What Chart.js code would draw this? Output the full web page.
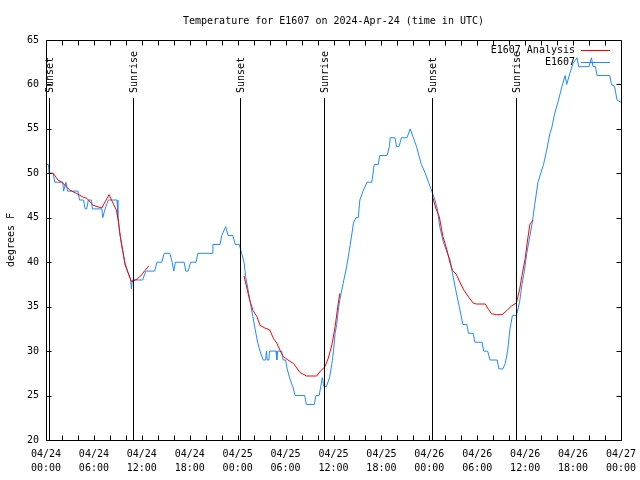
<!DOCTYPE html>
<html>
<head>
<meta charset="utf-8">
<script src="https://cdn.jsdelivr.net/npm/chart.js@4/dist/chart.umd.min.js"></script>
<style>
  html, body { margin: 0; padding: 0; background: #fff; }
</style>
</head>
<body>
<canvas id="myChart" width="640" height="480"></canvas>
<script>
// hours since 04/24 00:00 UTC, temperature in F
var obsHours = [0.0, 0.3, 0.4, 0.9, 1.1, 2.1, 2.2, 2.5, 2.7, 4.0, 4.2, 4.7, 4.9, 5.1, 5.3, 5.7, 5.8, 7.0, 7.1, 7.4, 7.8, 8.9,
  9.0, 9.2, 9.5, 9.9, 10.3, 10.6, 10.7, 10.8, 12.1, 12.5, 13.6, 13.9, 14.5, 14.8, 15.5, 15.8, 16.0, 16.2, 17.3, 17.5, 17.8,
  18.1, 18.8, 19.0, 20.8, 20.9, 21.8, 22.0, 22.5, 22.8, 23.4, 23.7, 24.2, 24.5, 24.8, 25.0, 25.3, 25.6, 25.9, 26.2, 26.5,
  26.8, 27.2, 27.5, 27.6, 27.7, 27.9, 28.0, 28.8, 28.9, 29.0, 29.5, 29.7, 30.0, 30.2, 30.5, 30.9, 31.2, 32.4, 32.6, 33.6,
  33.8, 34.2, 34.4, 34.6, 34.8, 35.1, 35.5, 35.8, 36.0, 36.2, 36.4, 36.6, 36.8, 37.2, 37.65, 38.1, 38.5, 38.8, 39.1, 39.3,
  39.7, 40.2, 40.8, 41.1, 41.6, 41.8, 42.7, 43.0, 43.1, 43.7, 43.9, 44.2, 44.5, 45.2, 45.6, 46.0, 46.4, 47.0, 47.5, 47.9,
  48.3, 48.7, 49.0, 49.3, 49.75, 50.25, 50.6, 50.9, 51.3, 51.75, 52.2, 52.7, 52.9, 53.5, 53.7, 54.6, 54.8, 55.3, 55.6,
  56.5, 56.7, 57.2, 57.5, 57.8, 58.1, 58.4, 58.9, 59.3, 59.6, 59.9, 60.2, 60.5, 60.9, 61.2, 61.6, 62.3, 62.7, 63.1, 63.3,
  63.7, 64.1, 64.6, 65.0, 65.2, 65.6, 66.0, 66.5, 66.7, 68.0, 68.3, 68.5, 68.8, 69.0, 70.6, 70.8, 71.2, 71.5, 72.0];
var obsTemps = [51, 51, 50, 50, 49, 49, 48, 49, 48, 48, 47, 47, 46, 46, 47, 47, 46, 46, 45, 46, 47, 47,
  45, 43.5, 41.7, 39.9, 38.8, 38, 37, 38, 38, 39, 39, 40, 40, 41, 41, 40, 39, 40, 40, 39, 39,
  40, 40, 41, 41, 42, 42, 43, 44, 43, 43, 42, 42, 41, 40, 38.4, 36.9, 35.4, 33.9, 32.4, 31,
  30, 29, 29, 30, 29, 29, 30, 30, 29, 30, 30, 29, 29, 28, 27, 26, 25, 25, 24, 24,
  25, 25, 26, 27, 26, 26, 27, 28.6, 30, 32, 33, 34.6, 35.8, 37.6, 39.5, 42, 44.4, 45, 45, 47,
  48, 49, 49, 51, 51, 52, 52, 53, 54, 54, 53, 53, 54, 54, 55, 54, 53, 51, 50, 49,
  48, 47, 46, 44, 42.3, 41, 40.25, 38.75, 36.9, 35, 33, 33, 32, 32, 31, 31, 30, 30, 29,
  29, 28, 28, 28.6, 30, 32.5, 34, 34, 35.5, 37.5, 39, 41, 42.5, 44.5, 46.5, 49, 51, 52.6, 54.5, 55,
  56.75, 58, 59.75, 61, 60, 61.25, 62.4, 63, 62, 62, 63, 62, 62, 61, 61, 60, 59.75, 58.25, 58];

var anaHours = [0.0, 0.9, 1.5, 2.0, 3.0, 3.8, 4.7, 5.1, 5.9, 7.0, 7.4, 7.9, 8.2, 8.8, 9.05, 9.3, 9.6, 9.9, 10.3, 10.7,
  11.4, 12.0, 12.4, 12.9, 13.0,
  24.8, 25.2, 25.5, 25.9, 26.4, 26.8, 27.4, 28.0, 28.5, 28.9, 29.3, 29.7, 30.3, 31.0, 31.8, 32.6, 33.9, 34.4, 34.9,
  35.35, 35.8, 36.2, 36.6, 36.8, 37.0,
  48.4, 48.8, 49.25, 49.7, 50.2, 50.6, 50.9, 51.4, 51.8, 52.3, 52.9, 53.5, 53.9, 55.0, 55.4, 55.8, 56.4, 57.1, 57.7,
  58.3, 58.9, 59.3, 59.6, 60.0, 60.3, 60.6, 61.0];
var anaTemps = [50, 50, 49.25, 49, 48.1, 47.75, 47.3, 47.2, 46.4, 46.1, 46.8, 47.6, 47, 45.9, 44.75, 42.9, 41.4, 39.7, 38.75, 37.8,
  38.1, 38.6, 39.1, 39.6, null,
  38.45, 36.9, 35.75, 34.6, 33.9, 32.9, 32.6, 32.4, 31.4, 30.9, 30.1, 29.4, 29, 28.6, 27.6, 27.2, 27.2, 27.8, 28.2,
  29.2, 30.7, 32.75, 35.4, 36.5, null,
  47.4, 46.1, 45.1, 42.9, 41.4, 39.9, 39.1, 38.6, 37.8, 36.9, 36.1, 35.4, 35.3, 35.3, 34.7, 34.2, 34.1, 34.1, 34.55,
  35.1, 35.4, 36.9, 38.5, 40.4, 42.5, 44.3, 44.75];

var sunHours = [0.37, 10.9, 24.35, 34.85, 48.33, 58.85];
var sunLabels = ["Sunset", "Sunrise", "Sunset", "Sunrise", "Sunset", "Sunrise"];

var dayLabels = ["04/24", "04/24", "04/24", "04/24", "04/25", "04/25", "04/25", "04/25", "04/26", "04/26", "04/26", "04/26", "04/27"];
var timeLabels = ["00:00", "06:00", "12:00", "18:00", "00:00", "06:00", "12:00", "18:00", "00:00", "06:00", "12:00", "18:00", "00:00"];

var titleText = "Temperature for E1607 on 2024-Apr-24 (time in UTC)";
var yTitle = "degrees F";
var monoFont = "'DejaVu Sans Mono', monospace";

function toPoints(xs, ys) {
  return xs.map(function (x, i) { return { x: x, y: ys[i] }; });
}

var gnuplotFrame = {
  id: "gnuplotFrame",
  beforeDraw: function (chart) {
    var ctx = chart.ctx;
    ctx.save();
    ctx.fillStyle = "#fff";
    ctx.fillRect(0, 0, chart.width, chart.height);
    ctx.restore();
  },
  afterDatasetsDraw: function (chart) {
    var ctx = chart.ctx;
    var a = chart.chartArea;
    var xs = chart.scales.x, ys = chart.scales.y;
    var L = Math.round(a.left) + 0.5, R = Math.round(a.right) + 0.5;
    var T = Math.round(a.top) + 0.5, B = Math.round(a.bottom) + 0.5;
    ctx.save();
    ctx.strokeStyle = "#000";
    ctx.lineWidth = 1;

    // sunrise / sunset markers
    ctx.font = "10px " + monoFont;
    ctx.fillStyle = "#000";
    sunHours.forEach(function (h, i) {
      var px = Math.round(xs.getPixelForValue(h)) + 0.5;
      ctx.beginPath();
      ctx.moveTo(px, B);
      ctx.lineTo(px, 98);
      ctx.stroke();
      ctx.save();
      ctx.translate(px + 1, 93);
      ctx.rotate(-Math.PI / 2);
      ctx.textAlign = "left";
      ctx.textBaseline = "middle";
      ctx.fillText(sunLabels[i], 0, 0);
      ctx.restore();
    });

    // border
    ctx.beginPath();
    ctx.rect(L, T, R - L, B - T);
    ctx.stroke();

    // inward ticks
    ctx.beginPath();
    xs.ticks.forEach(function (t) {
      var px = Math.round(xs.getPixelForValue(t.value)) + 0.5;
      ctx.moveTo(px, B); ctx.lineTo(px, B - 5);
      ctx.moveTo(px, T); ctx.lineTo(px, T + 5);
    });
    ys.ticks.forEach(function (t) {
      var py = Math.round(ys.getPixelForValue(t.value)) + 0.5;
      ctx.moveTo(L, py); ctx.lineTo(L + 5, py);
      ctx.moveTo(R, py); ctx.lineTo(R - 5, py);
    });
    ctx.stroke();

    // title
    ctx.textAlign = "center";
    ctx.textBaseline = "middle";
    ctx.fillText(titleText, (a.left + a.right) / 2, 21);

    // y axis title
    ctx.save();
    ctx.translate(11, (a.top + a.bottom) / 2);
    ctx.rotate(-Math.PI / 2);
    ctx.fillText(yTitle, 0, 0);
    ctx.restore();

    // key
    chart.data.datasets.forEach(function (ds, i) {
      var y = 50 + i * 12;
      ctx.textAlign = "right";
      ctx.fillStyle = "#000";
      ctx.fillText(ds.label, 575, y);
      ctx.strokeStyle = ds.borderColor;
      ctx.beginPath();
      ctx.moveTo(581, y + 0.5);
      ctx.lineTo(610, y + 0.5);
      ctx.stroke();
    });
    ctx.restore();
  }
};

new Chart("myChart", {
  type: "line",
  data: {
    datasets: [{
      label: "E1607 Analysis",
      data: toPoints(anaHours, anaTemps),
      borderColor: "#ff0000",
      borderWidth: 1,
      pointRadius: 0,
      tension: 0,
      spanGaps: false
    }, {
      label: "E1607",
      data: toPoints(obsHours, obsTemps),
      borderColor: "#1e8cff",
      borderWidth: 1,
      pointRadius: 0,
      tension: 0
    }]
  },
  options: {
    responsive: false,
    animation: false,
    layout: { padding: { left: 0, top: 40, right: 19, bottom: 0 } },
    plugins: {
      legend: { display: false },
      tooltip: { enabled: false }
    },
    scales: {
      x: {
        type: "linear",
        min: 0,
        max: 72,
        afterFit: function (s) {
          s.height = 40;
          s.paddingLeft = 0;
          s.paddingRight = 0;
        },
        border: { display: false },
        grid: { display: false, drawTicks: false },
        ticks: {
          stepSize: 2,
          autoSkip: false,
          maxRotation: 0,
          padding: 7,
          color: "#000",
          font: { family: monoFont, size: 10, lineHeight: 1.4 },
          callback: function (v) {
            if (v % 6 !== 0) return "";
            return [dayLabels[v / 6], timeLabels[v / 6]];
          }
        }
      },
      y: {
        min: 20,
        max: 65,
        afterFit: function (s) {
          s.width = 46;
          s.paddingTop = 0;
          s.paddingBottom = 0;
        },
        border: { display: false },
        grid: { display: false, drawTicks: false },
        ticks: {
          stepSize: 5,
          padding: 7,
          color: "#000",
          font: { family: monoFont, size: 10 }
        }
      }
    }
  },
  plugins: [gnuplotFrame]
});
</script>
</body>
</html>
